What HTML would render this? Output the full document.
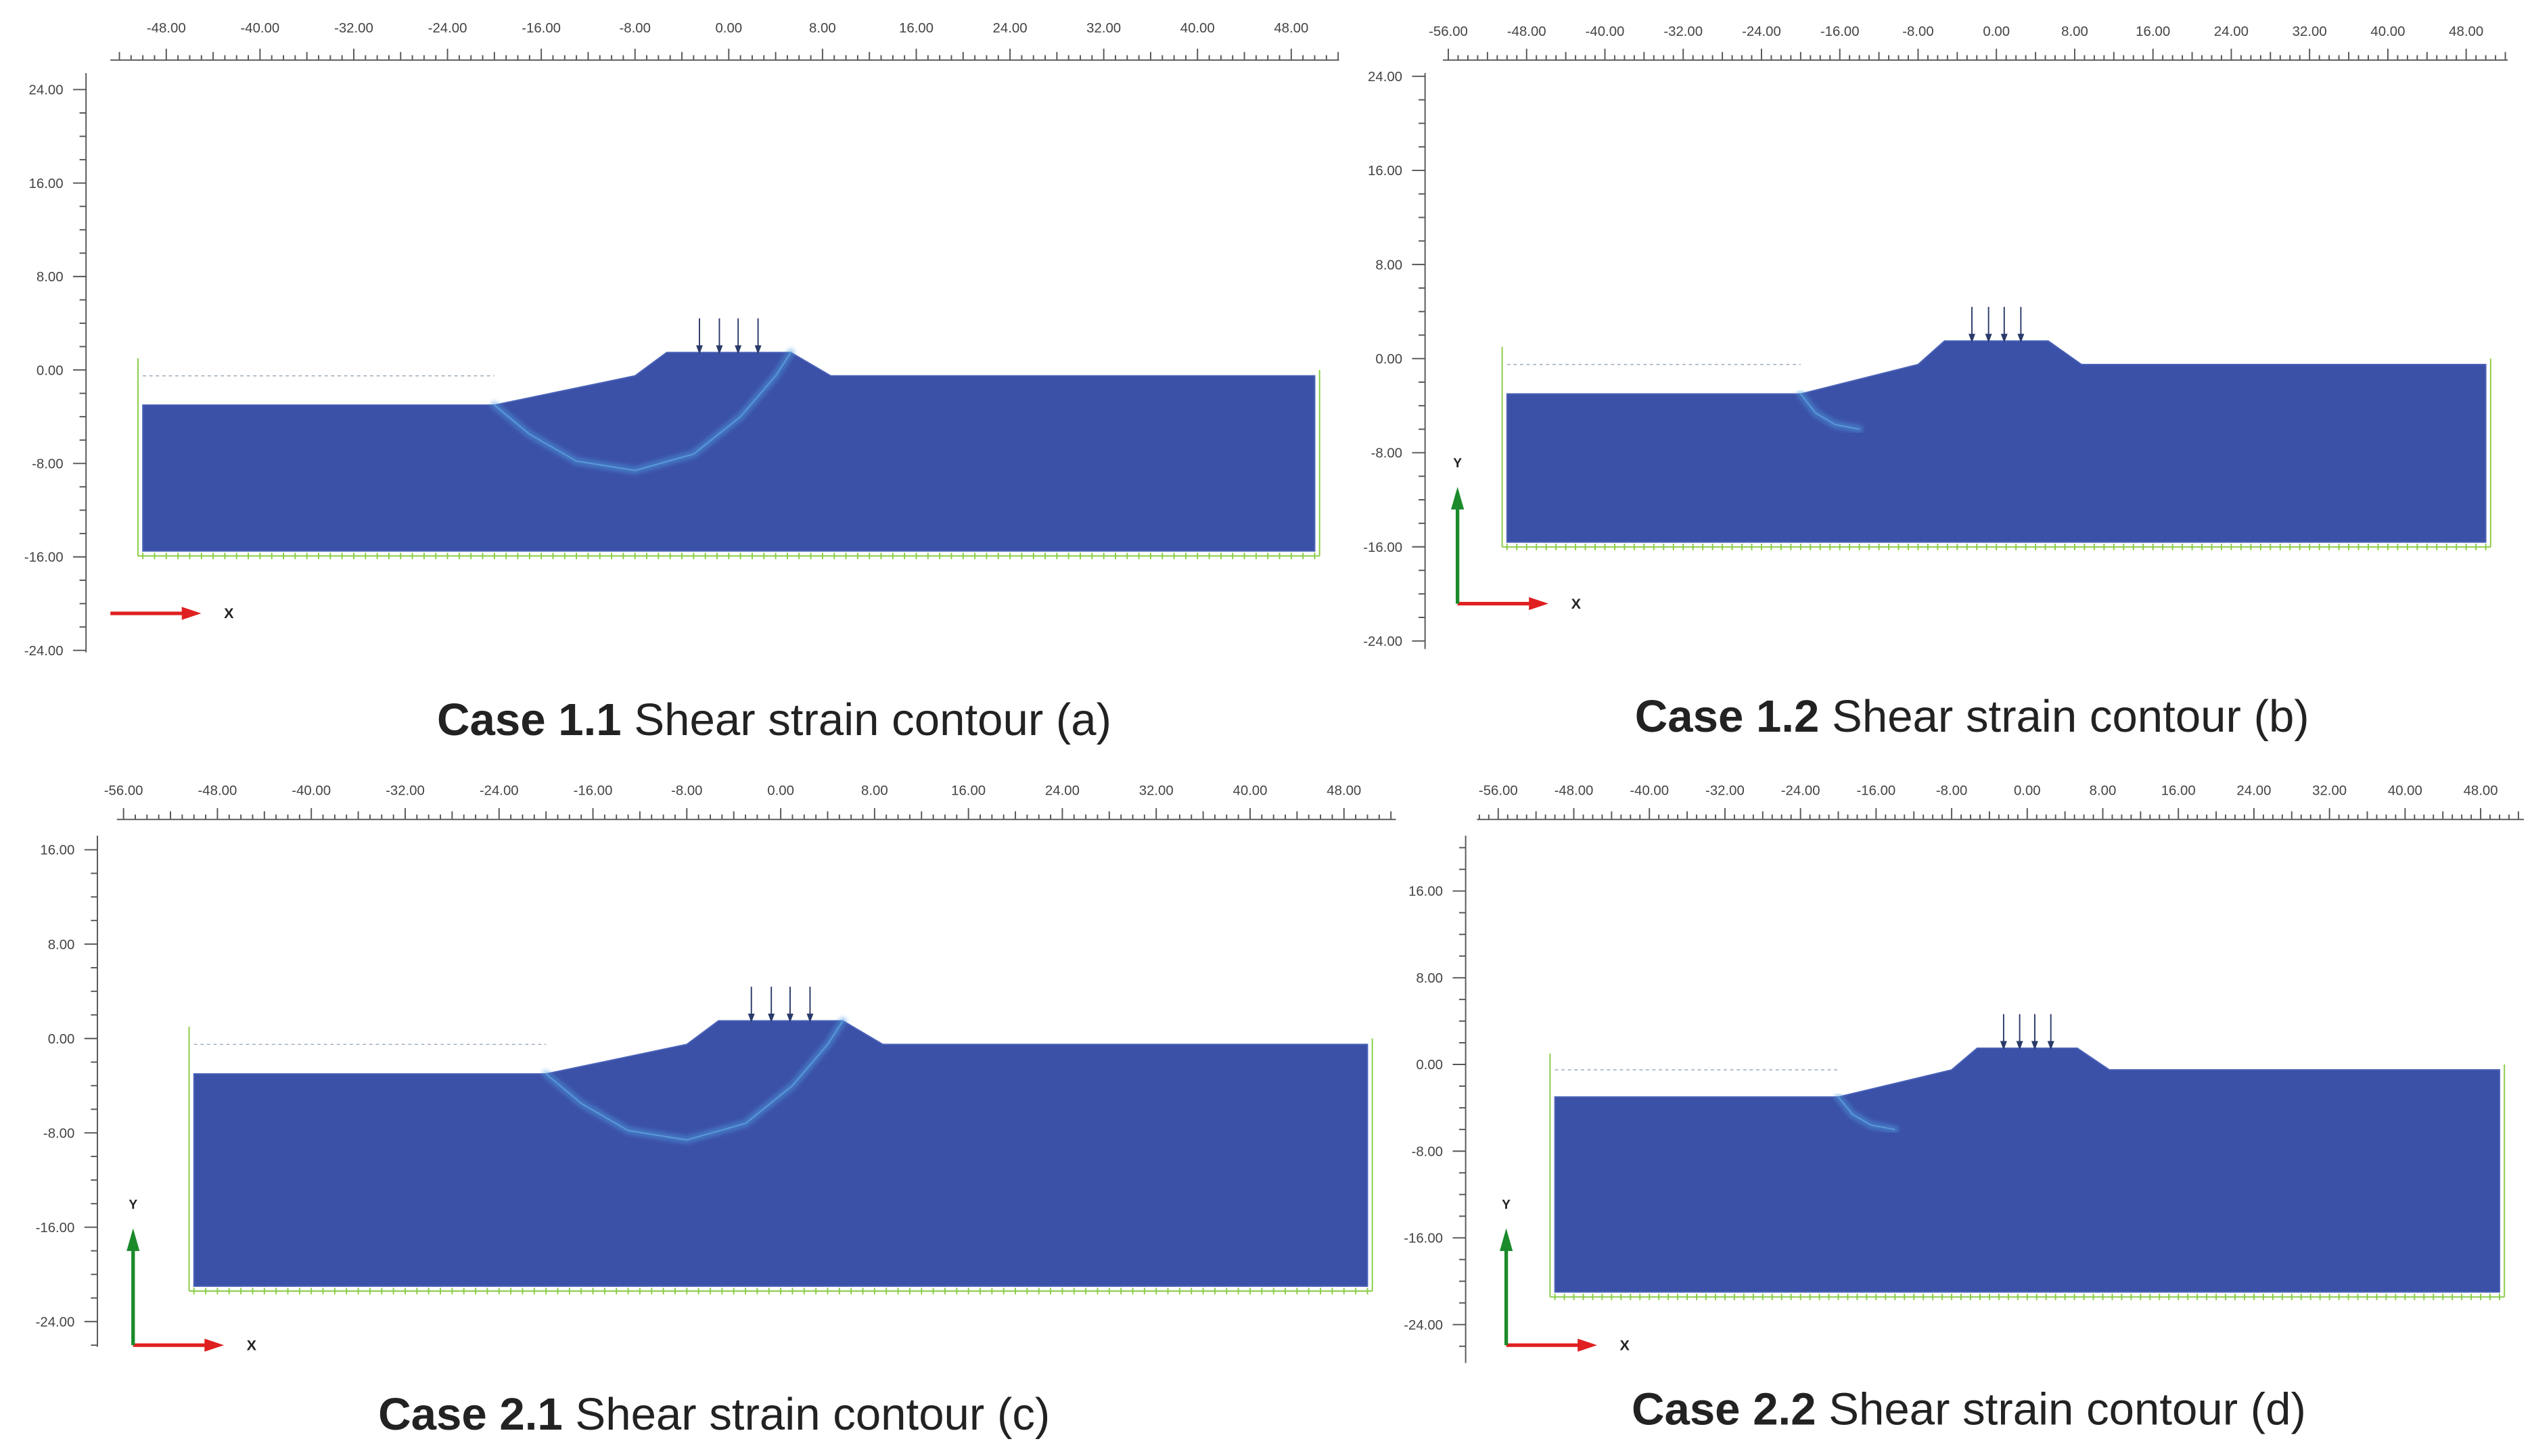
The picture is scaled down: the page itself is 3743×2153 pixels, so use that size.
<!DOCTYPE html>
<html><head><meta charset="utf-8"><style>
html,body{margin:0;padding:0;background:#fff;}
svg{display:block;}
text{font-family:"Liberation Sans",sans-serif;}
</style></head><body>
<svg id="fig" width="3743" height="2153" viewBox="0 0 1560 897.3" xmlns="http://www.w3.org/2000/svg">
<defs><filter id="blur" x="-10%" y="-10%" width="120%" height="120%"><feGaussianBlur stdDeviation="1.2"/></filter></defs>
</svg>
<script>
// Shared model geometry (model units)
const groundX = [-50, -20, -8, -5.3, 5.3, 8.7, 50];
const groundY1 = [-3, -3, -0.5, 1.5, 1.5, -0.5, -0.5];
const loadX = [-2.5, -0.8, 0.8, 2.5];
const xTicks = [-56, -48, -40, -32, -24, -16, -8, 0, 8, 16, 24, 32, 40, 48];
const bandDeepX = [-20, -17, -13, -8, -3, 1, 4, 5.3];
const bandDeepY = [-3, -5.5, -7.8, -8.6, -7.2, -4, -0.5, 1.5];
const bandShortX = [-20, -18.5, -16.5, -14];
const bandShortY = [-3, -4.6, -5.6, -6];
const panelNames = ["a", "b", "c", "d"];
const panelCase = ["1.1", "1.2", "2.1", "2.2"];
const panelBottom = [-15.5, -15.6, -21, -21];
const panelYTicks = [[24, 16, 8, 0, -8, -16, -24], [24, 16, 8, 0, -8, -16, -24], [16, 8, 0, -8, -16, -24], [16, 8, 0, -8, -16, -24]];
const panelBand = ["deep", "short", "deep", "short"];
// Layout of each panel (pixel frame, not data)
const frames = [
 {x0:449, sx:7.22, y0:228, sy:7.2, rulerY:37, rulerX:[68,825], labY:20, xMin:-48, axX:53, axY:[45,402], yArrow:false, ax:[68,378], cap:[477,443]},
 {x0:1230, sx:6.03, y0:221, sy:7.25, rulerY:37, rulerX:[889,1545], labY:22, xMin:-56, axX:878, axY:[45,400], yArrow:true, ax:[898,372], cap:[1215,441]},
 {x0:481, sx:7.23, y0:640, sy:7.27, rulerY:505, rulerX:[72,860], labY:490, xMin:-56, axX:60, axY:[515,830], yArrow:true, ax:[82,829], cap:[440,871]},
 {x0:1249, sx:5.82, y0:656, sy:6.68, rulerY:505, rulerX:[910,1555], labY:490, xMin:-56, axX:903, axY:[515,840], yArrow:true, ax:[928,829], cap:[1213,868]}
];
const NS = "http://www.w3.org/2000/svg";
const svg = document.getElementById("fig");
function mk(tag, attrs, parent){const e=document.createElementNS(NS,tag);for(const k in attrs)e.setAttribute(k,attrs[k]);(parent||svg).appendChild(e);return e;}

panelNames.forEach((nm, i) => {
  const f = frames[i];
  const X = v => f.x0 + v * f.sx;
  const Y = v => f.y0 - v * f.sy;
  const g = mk("g", {});
  
  
  const ru = mk("g", {stroke:"#555", "stroke-width":0.8}, g);
  
  
  mk("line", {x1:f.rulerX[0], y1:f.rulerY, x2:f.rulerX[1], y2:f.rulerY}, ru);
  for (let v = Math.ceil((f.rulerX[0]-f.x0)/f.sx); X(v) <= f.rulerX[1]; v++) {
    const L = v % 8 === 0 ? 7 : (v % 4 === 0 ? 5 : 3);
    mk("line", {x1:X(v), y1:f.rulerY, x2:X(v), y2:f.rulerY - L}, ru);
  }
  xTicks.filter(t => t >= f.xMin).forEach(t => {
    const tx = mk("text", {x:X(t), y:f.labY, "font-size":8.5, "text-anchor":"middle", fill:"#444"}, g);
    tx.textContent = t.toFixed(2);
    
    
  });
  const ya = mk("g", {stroke:"#555", "stroke-width":0.8}, g);
  
  
  mk("line", {x1:f.axX, y1:f.axY[0], x2:f.axX, y2:f.axY[1]}, ya);
  for (let v = Math.ceil((f.y0 - f.axY[1]) / f.sy); Y(v) >= f.axY[0]; v++) {
    if (v % 2) continue;
    const L = v % 8 === 0 ? 8 : 4;
    mk("line", {x1:f.axX, y1:Y(v), x2:f.axX - L, y2:Y(v)}, ya);
  }
  panelYTicks[i].forEach(t => {
    const tx = mk("text", {x:f.axX - 14, y:Y(t) + 3, "font-size":8.5, "text-anchor":"end", fill:"#444"}, g);
    tx.textContent = t.toFixed(2);
    
    
  });
  const wl = mk("line", {x1:X(-50), y1:Y(-0.5), x2:X(-20), y2:Y(-0.5), stroke:"#9ab", "stroke-width":0.6, "stroke-dasharray":"2 2"}, g);
  
  
  let d = "M" + X(-50) + "," + Y(panelBottom[i]);
  groundX.forEach((gx, k) => { d += " L" + X(gx) + "," + Y(groundY1[k]); });
  d += " L" + X(50) + "," + Y(panelBottom[i]) + " Z";
  const body = mk("path", {d:d, fill:"#3b51a7", stroke:"#4a62b8", "stroke-width":0.8}, g);
  
  
  const bx = panelBand[i] === "deep" ? bandDeepX : bandShortX;
  const by = panelBand[i] === "deep" ? bandDeepY : bandShortY;
  let bd = "";
  bx.forEach((v, k) => { bd += (k ? " L" : "M") + X(v) + "," + Y(by[k]); });
  const band = mk("path", {d:bd, fill:"none", stroke:"#4f9ee0", "stroke-width":5, "stroke-linejoin":"round", "stroke-linecap":"round", opacity:0.45, filter:"url(#blur)"}, g);
  
  
  mk("path", {d:bd, fill:"none", stroke:"#6fc4f0", "stroke-width":0.8, "stroke-linejoin":"round", opacity:0.5}, g);
  const bnd = mk("g", {stroke:"#8c4", "stroke-width":0.8}, g);
  
  
  mk("line", {x1:X(-50)-3, y1:Y(panelBottom[i])+3, x2:X(50)+3, y2:Y(panelBottom[i])+3}, bnd);
  mk("line", {x1:X(-50)-3, y1:Y(1), x2:X(-50)-3, y2:Y(panelBottom[i])+3}, bnd);
  mk("line", {x1:X(50)+3, y1:Y(0), x2:X(50)+3, y2:Y(panelBottom[i])+3}, bnd);
  for (let v = -50; v <= 50; v += 1) mk("line", {x1:X(v), y1:Y(panelBottom[i])+1, x2:X(v), y2:Y(panelBottom[i])+5}, bnd);
  loadX.forEach(lx => {
    const ar = mk("g", {stroke:"#2a3a6a", fill:"#2a3a6a", "stroke-width":0.8}, g);
    
    
    mk("line", {x1:X(lx), y1:Y(1.5)-21, x2:X(lx), y2:Y(1.5)-3}, ar);
    mk("path", {d:"M"+(X(lx)-1.5)+","+(Y(1.5)-4)+" L"+(X(lx)+1.5)+","+(Y(1.5)-4)+" L"+X(lx)+","+Y(1.5)+" Z"}, ar);
  });
  const tri = mk("g", {}, g);
  
  
  const ax = f.ax[0], ay = f.ax[1];
  mk("line", {x1:ax, y1:ay, x2:ax+46, y2:ay, stroke:"#e02020", "stroke-width":2.2}, tri);
  mk("path", {d:"M"+(ax+44)+","+(ay-4)+" L"+(ax+56)+","+ay+" L"+(ax+44)+","+(ay+4)+" Z", fill:"#e02020"}, tri);
  const xl = mk("text", {x:ax+70, y:ay+3, "font-size":9, "font-weight":"bold", fill:"#222"}, tri);
  xl.textContent = "X";
  if (f.yArrow) {
    mk("line", {x1:ax, y1:ay, x2:ax, y2:ay-60, stroke:"#1a8a2a", "stroke-width":2.2}, tri);
    mk("path", {d:"M"+(ax-4)+","+(ay-58)+" L"+ax+","+(ay-72)+" L"+(ax+4)+","+(ay-58)+" Z", fill:"#1a8a2a"}, tri);
    const yl = mk("text", {x:ax, y:ay-84, "font-size":8, "font-weight":"bold", "text-anchor":"middle", fill:"#222"}, tri);
    yl.textContent = "Y";
  }
  const cap = mk("text", {x:f.cap[0], y:f.cap[1]+10, "font-size":28, "text-anchor":"middle", fill:"#222"}, g);
  
  
  const b = mk("tspan", {"font-weight":"bold"}, cap);
  b.textContent = "Case " + panelCase[i];
  const r = mk("tspan", {}, cap);
  r.textContent = " Shear strain contour (" + nm + ")";
});
</script>
</body></html>
